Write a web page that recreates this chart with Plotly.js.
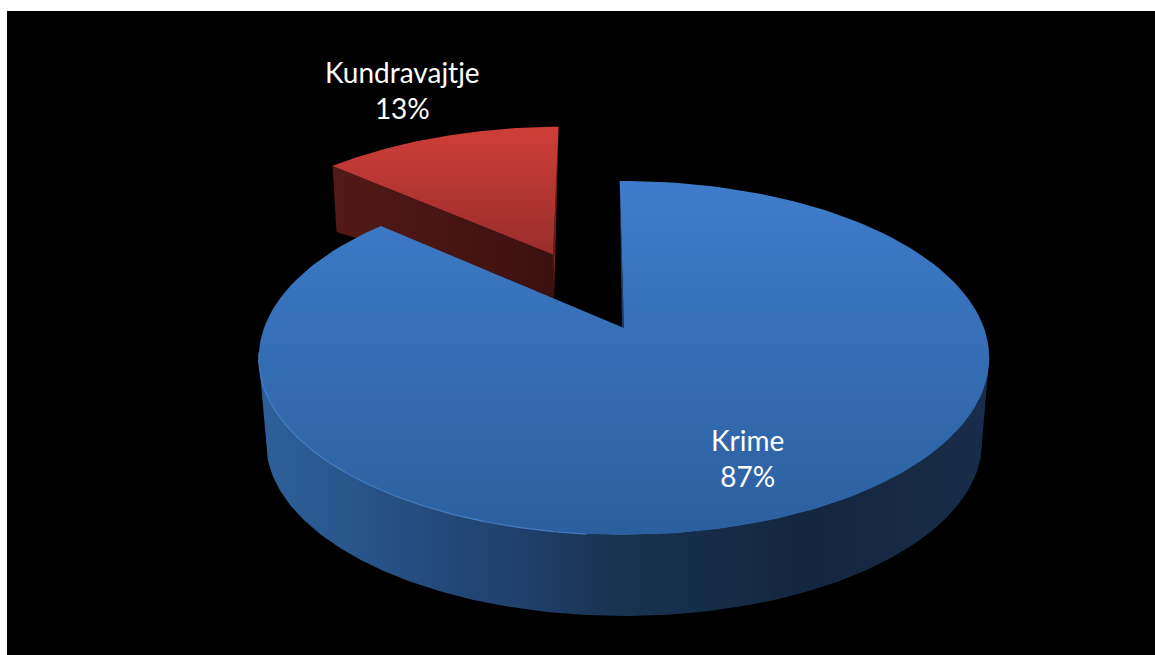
<!DOCTYPE html>
<html>
<head>
<meta charset="utf-8">
<script src="https://cdn.plot.ly/plotly-3.0.1.min.js"></script>
<style>html,body{margin:0;padding:0;background:#fff;overflow:hidden}#chart{width:1155px;height:655px}</style>
</head>
<body>
<div id="chart"></div>
<script>
// Data
var categories = ['Krime', 'Kundravajtje'];
var values = [86.7, 13.3];

// Colours
var blueTop = [[0, '#3e7ccb'], [1, '#2c5f9e']];
var blueWall = [[0, '#2d609b'], [0.37, '#1f3f69'], [0.5, '#18324f'], [0.75, '#132640'], [1, '#182d49']];
var redTop = [[0, '#d03e39'], [1, '#982e2b']];
var redWall = [[0, '#531a16'], [1, '#3c1010']];

// Projection of the pie plane to the page (perspective view)
var view = {cx: 624, cy: 328, bx: 360, by: 171.9, p: 0.1695, rot: -0.8};
var explode = {dist: 0.508};
function project(u, v) {
  var w = 1 + view.p * v;
  return [view.cx + view.bx * u / w, view.cy - view.by * v / w];
}
function polar(deg, ou, ov) {
  var r = deg * Math.PI / 180;
  return project((ou || 0) + Math.sin(r), (ov || 0) + Math.cos(r));
}
function wallPoint(pt, v) {
  var d = 85 + 4 * v;
  return [view.cx + 0.98 * (pt[0] - view.cx), pt[1] + d];
}
function arc(a, b, ou, ov) {
  var out = [], n = 180;
  for (var i = 0; i <= n; i++) out.push(polar(a + (b - a) * i / n, ou, ov));
  return out;
}
function poly(pts, gradient, type, start, stop) {
  return {
    type: 'scatter', mode: 'lines', hoverinfo: 'skip', showlegend: false,
    x: pts.map(function (p) { return p[0]; }),
    y: pts.map(function (p) { return p[1]; }),
    line: {width: 0}, fill: 'toself', fillcolor: gradient[0][1],
    fillgradient: {type: type, colorscale: gradient, start: start, stop: stop}
  };
}

var total = values.reduce(function (a, b) { return a + b; }, 0);
var blueSpan = values[0] / total * 360;
var a0 = view.rot, a1 = view.rot + blueSpan, a2 = view.rot + 360;
var mid = (a1 + a2) / 2 * Math.PI / 180;
var ou = explode.dist * Math.sin(mid), ov = explode.dist * Math.cos(mid);

// Blue wall: between the two widest points of the disc
var wallTop = [], wallBot = [];
for (var i = 0; i <= 200; i++) {
  var deg = 99.8 + (260.2 - 99.8) * i / 200, r = deg * Math.PI / 180;
  var pt = polar(deg);
  wallTop.push(pt);
  wallBot.push(wallPoint(pt, Math.cos(r)));
}
var blueWallPts = wallTop.concat(wallBot.reverse());

// Blue slice
var blueTopPts = [project(0, 0)].concat(arc(a0, a1)).concat([project(0, 0)]);
var blueSliver = [polar(a0), project(0, 0), [project(0, 0)[0] - 2, project(0, 0)[1] - 1]];

// Red slice
var redApex = project(ou, ov);
var redLeft = polar(a1, ou, ov);
var redRight = polar(a2, ou, ov);
var redTopPts = [redApex].concat(arc(a1, a2, ou, ov)).concat([redApex]);
var redApexBot = [redApex[0] + 1, redApex[1] + 45];
var redLeftBot = [redLeft[0] + 4, redLeft[1] + 66];
var redFace = [redLeft, redApex, redApexBot, redLeftBot, redLeft];
var redSliver = [redRight, redApex, redApexBot, redRight];

// Thin highlight on the front-left rim
var rim = arc(185, 262);

var traces = [
  poly(redFace, redWall, 'horizontal', 327, 555),
  poly(redSliver, [[0, '#6b1f1b'], [1, '#6b1f1b']], 'horizontal', 550, 560),
  poly(redTopPts, redTop, 'vertical', 125, 255),
  poly(blueWallPts, blueWall, 'horizontal', 262, 985),
  poly(blueSliver, [[0, '#1f3f69'], [1, '#1f3f69']], 'horizontal', 618, 625),
  poly(blueTopPts, blueTop, 'vertical', 181, 535),
  {
    type: 'scatter', mode: 'lines', hoverinfo: 'skip', showlegend: false,
    x: rim.map(function (p) { return p[0]; }), y: rim.map(function (p) { return p[1]; }),
    line: {color: '#4f8ad6', width: 1.2}, opacity: 0.8
  }
];

function pct(i) { return Math.round(values[i] / total * 100) + '%'; }
var labelFont = {family: 'Lato, "Open Sans", sans-serif', size: 28, color: '#ffffff'};

var layout = {
  width: 1155, height: 655,
  margin: {l: 0, r: 0, t: 0, b: 0},
  paper_bgcolor: '#ffffff', plot_bgcolor: 'rgba(0,0,0,0)',
  showlegend: false, hovermode: false,
  xaxis: {range: [0, 1155], visible: false, fixedrange: true},
  yaxis: {range: [655, 0], visible: false, fixedrange: true},
  shapes: [{type: 'rect', xref: 'x', yref: 'y', x0: 7, x1: 1155, y0: 11, y1: 655,
            fillcolor: '#000000', line: {width: 0}, layer: 'below'}],
  annotations: [
    {x: 747, y: 458, xref: 'x', yref: 'y', text: categories[0] + '<br>' + pct(0), showarrow: false, font: labelFont, align: 'center'},
    {x: 402, y: 90, xref: 'x', yref: 'y', text: categories[1] + '<br>' + pct(1), showarrow: false, font: labelFont, align: 'center'}
  ]
};
Plotly.newPlot('chart', traces, layout, {displayModeBar: false, staticPlot: true});
</script>
</body>
</html>
